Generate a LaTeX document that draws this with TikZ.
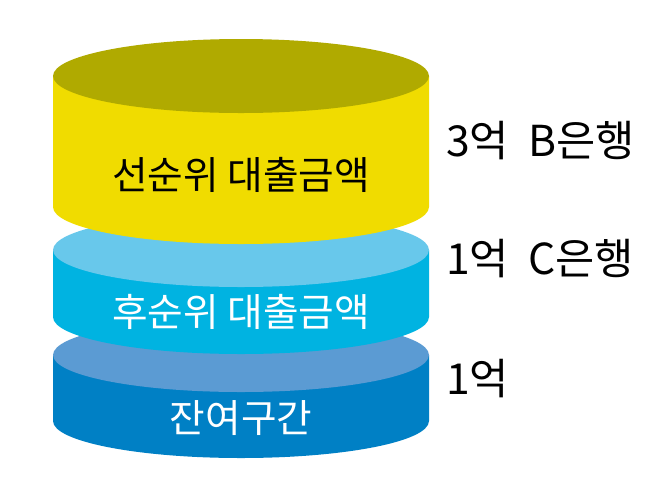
\documentclass[tikz,border=0pt]{standalone}
\usepackage{fontspec}
\newfontfamily\kr{Noto Sans CJK KR}
\begin{document}
\begin{tikzpicture}[x=0.75pt,y=-0.75pt,
  lbl/.style={font=\kr\fontsize{29}{32}\selectfont,inner sep=0pt},
  side/.style={font=\kr\fontsize{32}{36}\selectfont,inner sep=0pt,anchor=west}]
\useasboundingbox (0,0) rectangle (672,487);
\newcommand\cyl[4]{% top y, bottom y, body colour, top colour
  \fill[#3] (53,#1) -- (53,#2) arc[start angle=180,end angle=0,x radius=188,y radius=37] -- (429,#1) -- cycle;
  \fill[#4] (241,#1) ellipse[x radius=188,y radius=37];}
\definecolor{ybody}{HTML}{F0DC00}\definecolor{ytop}{HTML}{B0AA00}
\definecolor{mbody}{HTML}{00B3E1}\definecolor{mtop}{HTML}{68C8EB}
\definecolor{bbody}{HTML}{0080C5}\definecolor{btop}{HTML}{5B9BD3}
\cyl{355}{421}{bbody}{btop}
\cyl{250}{317}{mbody}{mtop}
\cyl{76}{207}{ybody}{ytop}
\node[lbl] (a) at (241,175) {선순위 대출금액};
\node[lbl,white] (b) at (241,312) {후순위 대출금액};
\node[lbl,white] (c) at (241,418) {잔여구간};
\node[side] (d) at (446,141) {3억\ \ B은행};
\node[side] (e) at (446,259) {1억\ \ C은행};
\node[side] (f) at (446,379) {1억};
\end{tikzpicture}
\end{document}
